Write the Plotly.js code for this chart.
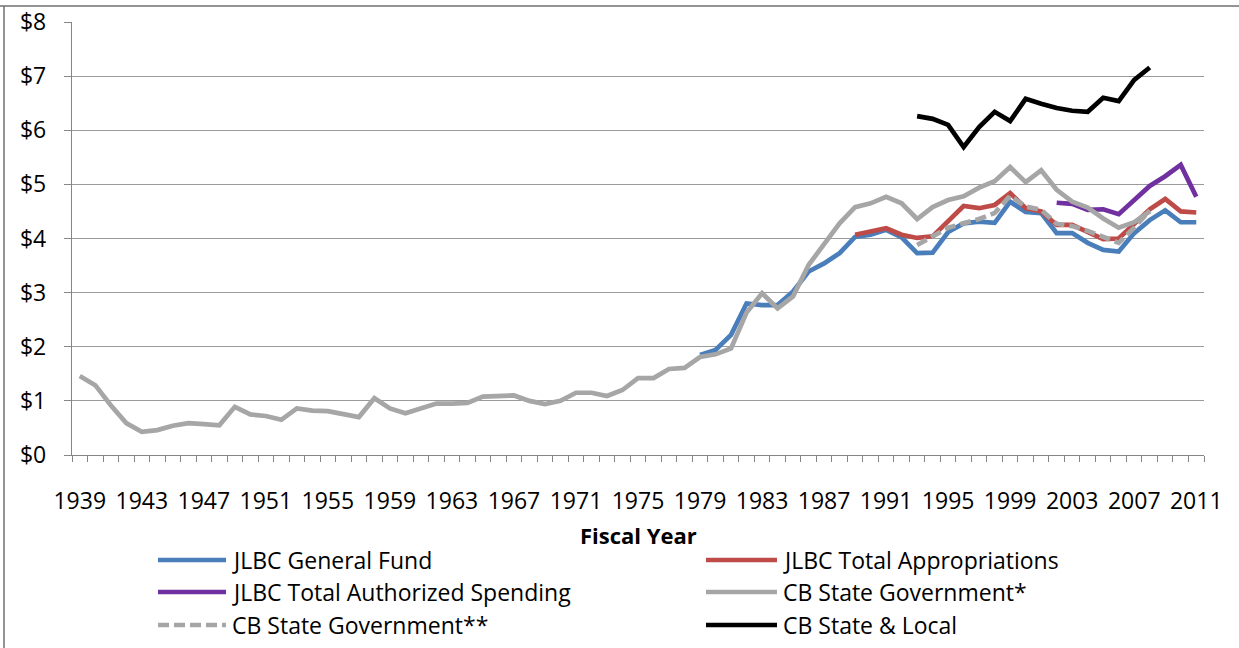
<!DOCTYPE html>
<html>
<head>
<meta charset="utf-8">
<script src="https://cdn.plot.ly/plotly-3.0.1.min.js"></script>
<style>
  html, body { margin: 0; padding: 0; background: #fff; }
  #chart { width: 1239px; height: 648px; }
</style>
</head>
<body>
<div id="chart"></div>
<script>
// ---------- DATA ----------
function yearRange(a, b) { const out = []; for (let y = a; y <= b; y++) out.push(y); return out; }

const tickYears = [1939, 1943, 1947, 1951, 1955, 1959, 1963, 1967, 1971, 1975, 1979, 1983, 1987, 1991, 1995, 1999, 2003, 2007, 2011];
const tickLabels = ["1939", "1943", "1947", "1951", "1955", "1959", "1963", "1967", "1971", "1975", "1979", "1983", "1987", "1991", "1995", "1999", "2003", "2007", "2011"];

const seriesNames = [
  "JLBC General Fund",
  "JLBC Total Appropriations",
  "JLBC Total Authorized Spending",
  "CB State Government*",
  "CB State Government**",
  "CB State & Local"
];

// JLBC General Fund, 1979-2011
const jlbcGFYears = yearRange(1979, 2011);
const jlbcGF = [1.85, 1.94, 2.22, 2.80, 2.77, 2.77, 3.02, 3.39, 3.54, 3.73,
                4.03, 4.07, 4.16, 4.02, 3.73, 3.74, 4.12, 4.28, 4.31, 4.29,
                4.68, 4.49, 4.47, 4.10, 4.10, 3.92, 3.79, 3.76, 4.10, 4.34,
                4.52, 4.30, 4.30];

// JLBC Total Appropriations, 1989-2011
const jlbcTAYears = yearRange(1989, 2011);
const jlbcTA = [4.07, 4.13, 4.19, 4.07, 4.01, 4.04, 4.32, 4.60, 4.56, 4.62,
                4.84, 4.56, 4.50, 4.25, 4.25, 4.13, 3.99, 4.00, 4.28, 4.54,
                4.73, 4.50, 4.48];

// JLBC Total Authorized Spending, 2002-2011
const jlbcTASYears = yearRange(2002, 2011);
const jlbcTAS = [4.66, 4.64, 4.53, 4.54, 4.45, 4.71, 4.97, 5.15, 5.36, 4.77];

// CB State Government*, 1939-2008
const cbStateYears = yearRange(1939, 2008);
const cbState = [1.46, 1.29, 0.92, 0.59, 0.43, 0.46, 0.54, 0.59, 0.57, 0.55,
                 0.89, 0.75, 0.72, 0.65, 0.86, 0.82, 0.81, 0.76, 0.70, 1.05,
                 0.86, 0.77, 0.86, 0.95, 0.95, 0.96, 1.08, 1.10, 1.10, 1.00,
                 0.94, 1.00, 1.15, 1.15, 1.09, 1.20, 1.42, 1.42, 1.59, 1.61,
                 1.81, 1.86, 1.97, 2.63, 2.99, 2.71, 2.93, 3.51, 3.91, 4.28,
                 4.58, 4.65, 4.77, 4.65, 4.36, 4.58, 4.71, 4.78, 4.94, 5.06,
                 5.32, 5.04, 5.26, 4.90, 4.68, 4.57, 4.37, 4.20, 4.30, 4.50];

// CB State Government**, 1993-2008
const cbState2Years = yearRange(1993, 2008);
const cbState2 = [3.88, 4.05, 4.20, 4.28, 4.36, 4.47, 4.79, 4.59, 4.53, 4.27,
                  4.23, 4.14, 4.02, 3.92, 4.20, 4.52];

// CB State & Local, 1993-2008
const cbSLYears = yearRange(1993, 2008);
const cbSL = [6.26, 6.21, 6.10, 5.69, 6.06, 6.34, 6.17, 6.58, 6.49, 6.41,
              6.36, 6.34, 6.60, 6.54, 6.93, 7.16];

// ---------- STYLE ----------
const colors = ["#4A7EBB", "#BE4B48", "#7030A0", "#A6A6A6", "#A6A6A6", "#000000"];
const dashes = ["solid", "solid", "solid", "solid", "11px,5px", "solid"];
const FONT = "'Open Sans', 'Noto Sans', sans-serif";
const LW = 4.7;

const xs = [jlbcGFYears, jlbcTAYears, jlbcTASYears, cbStateYears, cbState2Years, cbSLYears];
const ys = [jlbcGF, jlbcTA, jlbcTAS, cbState, cbState2, cbSL];

const traces = seriesNames.map((n, i) => ({
  type: "scatter",
  mode: "lines",
  name: n,
  x: xs[i],
  y: ys[i],
  line: { color: colors[i], width: LW, dash: dashes[i] },
  hoverinfo: "x+y+name",
  showlegend: false
}));

// plot-area geometry (pixels)
const L = 72, R = 35, T = 22, B = 193, W = 1239, H = 648;
const pw = W - L - R, ph = H - T - B;
const px = x => (x - L) / pw;
const py = y => (H - B - y) / ph;

// custom legend: 2 columns x 3 rows
const legRows = [560, 592, 625];
const legCols = [{ x0: 158, x1: 226, tx: 230 }, { x0: 706, x1: 777, tx: 781 }];
const shapes = [];
const annotations = [];
seriesNames.forEach((n, i) => {
  const r = Math.floor(i / 2), c = i % 2;
  const col = legCols[c], yy = legRows[r];
  shapes.push({
    type: "line", xref: "paper", yref: "paper",
    x0: px(col.x0), x1: px(col.x1), y0: py(yy), y1: py(yy),
    line: { color: colors[i], width: LW, dash: dashes[i] }
  });
  annotations.push({
    xref: "paper", yref: "paper", x: px(col.tx), y: py(yy),
    xanchor: "left", yanchor: "middle", showarrow: false,
    text: n, font: { family: FONT, size: 23, color: "#000" }
  });
});

// axis title
annotations.push({
  xref: "paper", yref: "paper", x: 0.5, y: py(535),
  xanchor: "center", yanchor: "middle", showarrow: false,
  text: "<b>Fiscal Year</b>", font: { family: FONT, size: 22, color: "#000" }
});

// outer frame lines (top and left)
shapes.push({ type: "line", xref: "paper", yref: "paper", x0: px(0), x1: px(W), y0: py(6), y1: py(6), line: { color: "#707070", width: 1.5 } });
shapes.push({ type: "line", xref: "paper", yref: "paper", x0: px(4), x1: px(4), y0: py(6), y1: py(H), line: { color: "#707070", width: 1.5 } });

const layout = {
  width: W, height: H,
  margin: { l: L, r: R, t: T, b: B, pad: 0 },
  paper_bgcolor: "#fff", plot_bgcolor: "#fff",
  font: { family: FONT, size: 23, color: "#000" },
  showlegend: false,
  xaxis: {
    range: [1938.5, 2011.5],
    tickmode: "array", tickvals: tickYears, ticktext: tickLabels,
    ticks: "", showgrid: false, zeroline: false,
    showline: true, linecolor: "#868686", linewidth: 1.3,
    ticklabelstandoff: 25,
    tickfont: { family: FONT, size: 23, color: "#000" },
    minor: { tickmode: "linear", tick0: 1938.5, dtick: 1, ticks: "outside", ticklen: 6, tickcolor: "#868686", tickwidth: 1, showgrid: false }
  },
  yaxis: {
    range: [0, 8], dtick: 1, tick0: 0, tickprefix: "$",
    ticks: "outside", ticklen: 7, tickcolor: "#868686", tickwidth: 1,
    showgrid: true, gridcolor: "#9a9a9a", gridwidth: 1.4,
    zeroline: false, showline: true, linecolor: "#868686", linewidth: 1.3,
    ticklabelstandoff: 13,
    tickfont: { family: FONT, size: 23, color: "#000" }
  },
  shapes: shapes,
  annotations: annotations
};

Plotly.newPlot("chart", traces, layout, { displayModeBar: false, staticPlot: false });
</script>
</body>
</html>
